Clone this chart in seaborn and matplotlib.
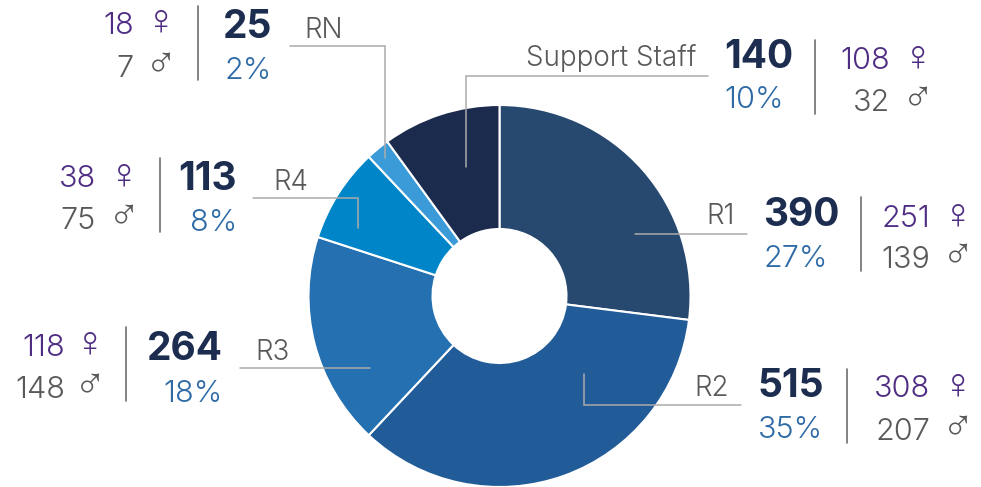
import matplotlib
matplotlib.use("Agg")
import matplotlib.pyplot as plt
import seaborn as sns

# ---------- data ----------
categories = ["R1", "R2", "R3", "R4", "RN", "Support Staff"]
totals = [390, 515, 264, 113, 25, 140]
percents = [27, 35, 18, 8, 2, 10]
female = [251, 308, 118, 38, 18, 108]
male = [139, 207, 148, 75, 7, 32]

# ---------- style ----------
colors = ["#27486F", "#215C99", "#2470B0", "#0085C8", "#3A9BD8", "#1B2B4E"]
NAVY, BLUE, PURPLE, GREY, LEAD, SEP = "#1C2D50", "#2D6AA6", "#4F2D83", "#58595B", "#ABABAB", "#6E6E6E"
FONT = "Inter"

sns.set_theme(style="white")
W, H = 981, 487
fig = plt.figure(figsize=(W / 100, H / 100), dpi=100)
ax = fig.add_axes([0, 0, 1, 1])

ax.pie(percents, colors=colors, startangle=90, counterclock=False, center=(499.5, H - 296),
       radius=191, wedgeprops=dict(width=124, edgecolor="white", linewidth=1.5), frame=True)
ax.set_xlim(0, W)
ax.set_ylim(0, H)
ax.set_aspect("equal")
ax.axis("off")

layout = {
    "R1": dict(tx=763, tha="left", tb=226, pb=267, sx=861, st=197, nr=930, cx=958, fb=227, mb=268,
               lx=735, lha="right", lb=224, path=[(635, 234), (747, 234)]),
    "R2": dict(tx=758, tha="left", tb=397, pb=438, sx=847, st=369, nr=930, cx=958, fb=397, mb=440,
               lx=729, lha="right", lb=396, path=[(584, 374), (584, 405), (741, 405)]),
    "R3": dict(tx=223, tha="right", tb=360, pb=402, sx=126, st=327, nr=65, cx=90, fb=356, mb=398,
               lx=255, lha="left", lb=360, path=[(240, 368), (370, 368)]),
    "R4": dict(tx=237, tha="right", tb=190, pb=231, sx=160, st=158, nr=96, cx=124, fb=187, mb=229,
               lx=273, lha="left", lb=190, path=[(253, 198), (358, 198), (358, 228)]),
    "RN": dict(tx=272, tha="right", tb=38, pb=79, sx=198, st=6, nr=134, cx=161, fb=34, mb=77,
               lx=304, lha="left", lb=38, path=[(290, 46), (385, 46), (385, 158)]),
    "Support Staff": dict(tx=724, tha="left", tb=68, pb=108, sx=815, st=40, nr=890, cx=918, fb=69, mb=111,
                          lx=696, lha="right", lb=66, path=[(466, 167), (466, 76), (708, 76)]),
}


def put(x, y, s, size, color, ha="left", weight=300, family=FONT):
    ax.text(x, H - y, s, fontsize=size, color=color, ha=ha, va="baseline",
            fontweight=weight, family=family)


for i, cat in enumerate(categories):
    g = layout[cat]
    xs, ys = zip(*g["path"])
    ax.plot(xs, [H - y for y in ys], color=LEAD, lw=1.1, solid_joinstyle="miter", zorder=5)
    ax.plot([g["sx"], g["sx"]], [H - g["st"], H - g["st"] - 74], color=SEP, lw=1.2)
    put(g["lx"], g["lb"], cat, 20, GREY, g["lha"])
    put(g["tx"], g["tb"], str(totals[i]), 28, NAVY, g["tha"], "bold")
    put(g["tx"], g["pb"], f"{percents[i]}%", 22, BLUE, g["tha"])
    put(g["nr"], g["fb"], str(female[i]), 22, PURPLE, "right")
    put(g["nr"], g["mb"], str(male[i]), 22, GREY, "right")
    put(g["cx"], g["fb"], "\u2640", 31, PURPLE, "center", "normal", "Liberation Sans")
    put(g["cx"], g["mb"], "\u2642", 31, GREY, "center", "normal", "Liberation Sans")

fig.savefig("out.png", dpi=100, facecolor="white")
